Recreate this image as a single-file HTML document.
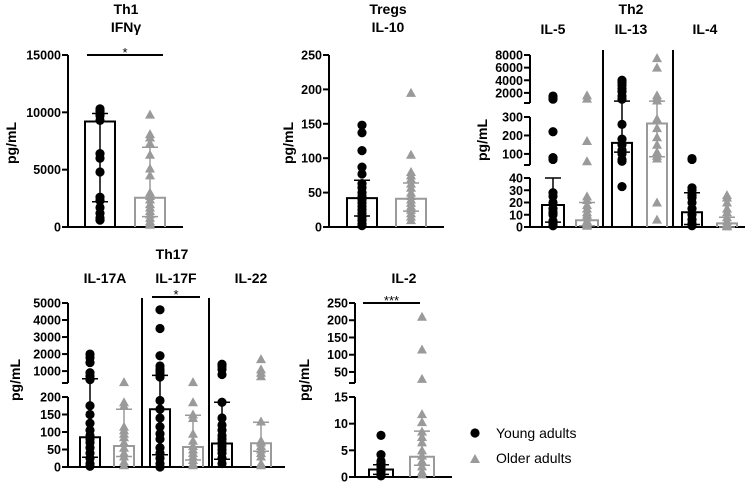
<!DOCTYPE html>
<html><head><meta charset="utf-8"><style>
body{margin:0;background:#fff}
svg{display:block;font-family:"Liberation Sans",Arial,sans-serif}
.tk{font-size:12.5px;font-weight:bold;text-anchor:end}
.tt{font-size:14px;font-weight:bold;text-anchor:middle}
.yl{font-size:14px;font-weight:bold;text-anchor:middle}
</style></head><body>
<svg id="c" width="750" height="483" viewBox="0 0 750 483"></svg>
<script>
// ---- data ----
const ifngYoung=[10300,10100,9900,9700,9300,6400,6000,4800,2600,2300,1700,1200,800,600];
const ifngOlder=[9800,8100,7800,7300,6300,5100,4500,3000,2700,2400,2000,1700,1400,1100,800,500,300,200];
const il10Young=[148,137,111,87,77,63,57,50,45,40,35,30,25,20,15,10,5,2];
const il10Older=[195,105,80,75,70,63,57,50,45,40,35,30,25,20,15,10];
const il5Young=[1500,1200,1000,220,80,70,28,25,20,15,12,10,5,3,1];
const il5Older=[1600,1100,170,60,25,22,18,15,12,10,8,5,3,2,1];
const il13Young=[4000,3600,3200,2700,2200,1500,1000,260,180,150,120,100,70,60,33];
const il13Older=[7500,6000,1600,1200,800,290,240,190,150,110,90,75,20,6];
const il4Young=[75,70,32,30,26,24,20,15,10,6,3,1];
const il4Older=[26,24,20,15,12,8,5,3,2,1,0.5];
const il17aYoung=[2000,1800,1500,900,700,500,175,150,125,105,90,80,70,55,40,25,10,2];
const il17aOlder=[350,185,175,115,105,95,85,70,55,40,30,15,5];
const il17fYoung=[4600,3500,1900,1300,1100,950,800,650,190,165,140,115,95,80,55,40,25,10,0];
const il17fOlder=[350,185,150,140,95,75,60,50,40,30,20,10,5];
const il22Young=[1400,1300,1100,800,185,140,120,105,90,80,70,60,50,40,25,10];
const il22Older=[1700,1100,900,700,130,75,70,60,50,40,30,10,5];
const il2Young=[7.8,4.2,3,2.5,2,1.5,1,0.5,0.2];
const il2Older=[210,115,30,11.8,10.3,8.5,7.5,6.5,5,4,3,2,1,0.5];
// means and error ranges [mean, low, high]
const ifngBars=[[9200,2200,9900],[2550,900,6950]];
const il10Bars=[[42,16,68],[41,23,64]];
const il5Bars=[[18,4,40],[5.5,1,20]];
const il13Bars=[[160,110,700],[265,85,700]];
const il4Bars=[[12,2,28],[3,0,8]];
const il17aBars=[[85,28,550],[60,30,165]];
const il17fBars=[[165,35,750],[57,20,148]];
const il22Bars=[[67,22,185],[68,45,128]];
const il2Bars=[[1.4,0.5,2.3],[3.8,2.2,8.6]];
// tick labels
const ticksIfng=[0,5000,10000,15000];
const ticksIl10=[0,50,100,150,200,250];
const ticksTh2=[0,10,20,30,40,100,200,300,2000,4000,6000,8000];
const ticksTh17=[0,50,100,150,200,1000,2000,3000,4000,5000];
const ticksIl2=[0,5,10,15,50,100,150,200,250];

const NS="http://www.w3.org/2000/svg",svg=document.getElementById('c');
function mk(t,a,p){const e=document.createElementNS(NS,t);for(const k in a)e.setAttribute(k,a[k]);(p||svg).appendChild(e);return e;}
function txt(x,y,s,cls,name,extra){const e=mk('text',Object.assign({x:x,y:y,class:cls},extra||{}));e.textContent=s;

return e;}
const BLK="#000",GRY="#9a9a9a";

function scale(segs){return v=>{let s=segs.find(g=>v>=g[0]&&v<=g[1]);
 if(!s){s=v<segs[0][0]?segs[0]:segs[segs.length-1];}
 return s[2]+(v-s[0])/(s[1]-s[0])*(s[3]-s[2]);};}

function panel(o){
 const y=scale(o.segs);
 const g=mk('g',{});
 
 
 // y axis segments
 o.segs.forEach((s,i)=>{
  const l=mk('line',{x1:o.ax,x2:o.ax,y1:s[2]+(i==0?1:0),y2:s[3],stroke:BLK,'stroke-width':2},g);
  
  
  if(i>0)mk('line',{x1:o.ax-6,x2:o.ax,y1:s[2],y2:s[2],stroke:BLK,'stroke-width':2},g);
  if(i<o.segs.length-1)mk('line',{x1:o.ax-6,x2:o.ax,y1:s[3],y2:s[3],stroke:BLK,'stroke-width':2},g);
 });
 o.ticks.forEach(t=>{const py=y(t);
  mk('line',{x1:o.ax-6,x2:o.ax,y1:py,y2:py,stroke:BLK,'stroke-width':2},g);
  txt(o.ax-7,py+4.5,String(t),'tk','y-tick-label');});
 const xa=mk('line',{x1:o.ax-1,x2:o.xend,y1:o.segs[0][2],y2:o.segs[0][2],stroke:BLK,'stroke-width':2},g);
 
 
 const yl=txt(o.ylx,o.yly,'pg/mL','yl','y-axis-title',{transform:`rotate(-90 ${o.ylx} ${o.yly})`});
 o.groups.forEach(gr=>{
  gr.series.forEach((ser,k)=>{
   const cx=gr.cx[k],col=k?GRY:BLK,b=ser.bar,hw=gr.hw;
   // bar per segment
   o.segs.forEach(s=>{
    const lo=Math.max(s[0],0);if(b[0]<=lo)return;
    const top=Math.min(b[0],s[1]);const p0=y(lo),p1=y(top);
    const r=mk('path',{d:`M${cx-hw},${p0}V${p1}`+(b[0]<=s[1]?`H${cx+hw}`:`M${cx+hw},${p1}`)+`V${p0}`,fill:'none',stroke:col,'stroke-width':2},g);
    
    
   });
   // points
   ser.pts.forEach(v=>{const py=y(v);let m;
    if(k==0)m=mk('circle',{cx:cx,cy:py,r:4.6,fill:BLK},g);
    else m=mk('path',{d:`M${cx},${py-5}L${cx+5},${py+4}L${cx-5},${py+4}Z`,fill:GRY},g);
    
    });
   // error bar
   const e1=y(b[1]),e2=y(b[2]);
   const eb=mk('path',{d:`M${cx},${e1}V${e2}M${cx-8},${e1}H${cx+8}M${cx-8},${e2}H${cx+8}`,stroke:col,'stroke-width':1.5,fill:'none'},g);
   
   
  });
  txt(gr.tx,gr.ty,gr.title,'tt','panel-title');
 });
 (o.divs||[]).forEach(d=>{const l=mk('line',{x1:d,x2:d,y1:o.dtop,y2:o.segs[0][2],stroke:BLK,'stroke-width':2},g);
  
  });
 (o.sig||[]).forEach(s=>{const l=mk('line',{x1:s[0],x2:s[1],y1:s[2],y2:s[2],stroke:BLK,'stroke-width':2},g);
  
  
  txt((s[0]+s[1])/2,s[2]+2,s[3],'tt','significance-stars',{style:'font-size:13px;font-weight:normal'});});
 (o.heads||[]).forEach(h=>txt(h[0],h[1],h[2],'tt','group-title'));
}

panel({name:'panel-ifng',ax:68,xend:183,segs:[[0,15000,227,55]],ticks:ticksIfng,ylx:16,yly:143,
 groups:[{key:'ifng',title:'IFNγ',tx:126,ty:32,hw:15,cx:[100,150],series:[{pts:ifngYoung,bar:ifngBars[0]},{pts:ifngOlder,bar:ifngBars[1]}]}],
 sig:[[87,163,55,'*']],heads:[[126,14,'Th1']]});
panel({name:'panel-il10',ax:329,xend:444,segs:[[0,250,227,55]],ticks:ticksIl10,ylx:293,yly:143,
 groups:[{key:'il10',title:'IL-10',tx:388,ty:32,hw:15,cx:[362,411],series:[{pts:il10Young,bar:il10Bars[0]},{pts:il10Older,bar:il10Bars[1]}]}],
 heads:[[388,14,'Tregs']]});
const th2s=[[0,40,227,178],[40,300,165,117],[400,8000,103,55]];
panel({name:'panel-th2',ax:530,xend:745,segs:th2s,ticks:ticksTh2,ylx:487,yly:140,divs:[603,673],dtop:50,
 groups:[
  {key:'il5',title:'IL-5',tx:553,ty:34,hw:11,cx:[553,587],series:[{pts:il5Young,bar:il5Bars[0]},{pts:il5Older,bar:il5Bars[1]}]},
  {key:'il13',title:'IL-13',tx:631,ty:34,hw:10,cx:[622,657],series:[{pts:il13Young,bar:il13Bars[0]},{pts:il13Older,bar:il13Bars[1]}]},
  {key:'il4',title:'IL-4',tx:705,ty:34,hw:10,cx:[692,727],series:[{pts:il4Young,bar:il4Bars[0]},{pts:il4Older,bar:il4Bars[1]}]}],
 heads:[[631,14,'Th2']]});
const th17s=[[0,200,467,397],[300,5000,383,303]];
panel({name:'panel-th17',ax:68,xend:285,segs:th17s,ticks:ticksTh17,ylx:20,yly:380,divs:[142,209],dtop:298,
 groups:[
  {key:'il17a',title:'IL-17A',tx:105,ty:283,hw:10,cx:[90,124],series:[{pts:il17aYoung,bar:il17aBars[0]},{pts:il17aOlder,bar:il17aBars[1]}]},
  {key:'il17f',title:'IL-17F',tx:176,ty:283,hw:10,cx:[160,193],series:[{pts:il17fYoung,bar:il17fBars[0]},{pts:il17fOlder,bar:il17fBars[1]}]},
  {key:'il22',title:'IL-22',tx:251,ty:283,hw:10,cx:[222,261],series:[{pts:il22Young,bar:il22Bars[0]},{pts:il22Older,bar:il22Bars[1]}]}],
 sig:[[152,200,297,'*']],heads:[[172,259,'Th17']]});
const il2s=[[0,15,477,397],[18,250,383,303]];
panel({name:'panel-il2',ax:355,xend:452,segs:il2s,ticks:ticksIl2,ylx:309,yly:380,
 groups:[{key:'il2',title:'IL-2',tx:404,ty:283,hw:12,cx:[381,422],series:[{pts:il2Young,bar:il2Bars[0]},{pts:il2Older,bar:il2Bars[1]}]}],
 sig:[[363,420,303,'***']]});
</script>
<g></g>
<svg width="0" height="0"></svg>
<script>
const lg=document.getElementById('c');
const N="http://www.w3.org/2000/svg";
const lgg=document.createElementNS(N,'g');


lg.appendChild(lgg);
const d1=document.createElementNS(N,'circle');d1.setAttribute('cx',475);d1.setAttribute('cy',433);d1.setAttribute('r',4.6);lgg.appendChild(d1);


const t1=document.createElementNS(N,'text');t1.setAttribute('x',496);t1.setAttribute('y',438);t1.setAttribute('font-size','14');t1.textContent='Young adults';lgg.appendChild(t1);


const d2=document.createElementNS(N,'path');d2.setAttribute('d','M475,454L480,463L470,463Z');d2.setAttribute('fill','#9a9a9a');lgg.appendChild(d2);


const t2=document.createElementNS(N,'text');t2.setAttribute('x',496);t2.setAttribute('y',463);t2.setAttribute('font-size','14');t2.textContent='Older adults';lgg.appendChild(t2);


</script>
</body></html>
